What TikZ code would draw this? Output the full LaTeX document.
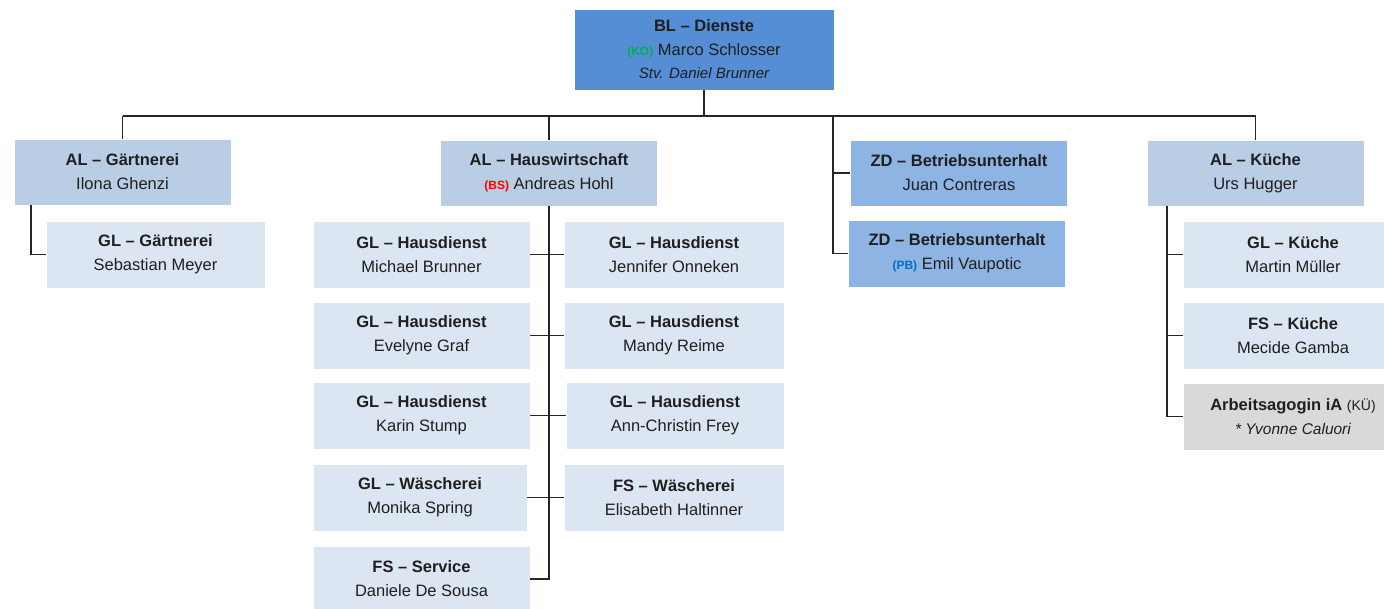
\documentclass[tikz,border=0pt]{standalone}
\usepackage{fontspec}
\setmainfont{Liberation Sans}
\definecolor{blfill}{HTML}{558ED5}
\definecolor{zdfill}{HTML}{8DB4E2}
\definecolor{alfill}{HTML}{B9CDE5}
\definecolor{glfill}{HTML}{DCE6F2}
\definecolor{grfill}{HTML}{D9D9D9}
\definecolor{txt}{HTML}{1F1F1F}
\definecolor{lin}{HTML}{262626}
\definecolor{kogreen}{HTML}{00B050}
\definecolor{bsred}{HTML}{FF0000}
\definecolor{pbblue}{HTML}{0070C0}
\newcommand{\tagsmall}[2]{{\color{#1}\bfseries\fontsize{12}{14}\selectfont #2}}
\begin{document}
\begin{tikzpicture}[x=1pt,y=-1pt,
  orgbox/.style={rectangle, inner sep=0pt, align=center, text=txt, draw=white, line width=0.6pt,
     minimum width=217pt, minimum height=67pt, font={\fontsize{16.5}{24}\selectfont}},
  albox/.style={orgbox, fill=alfill, minimum height=66pt},
  glbox/.style={orgbox, fill=glfill},
  zdbox/.style={orgbox, fill=zdfill},
  conn/.style={draw=lin, line width=1.3pt}]
\useasboundingbox (0,0) rectangle (1384,609);
\clip (0,0) rectangle (1384,609);
\fill[white] (0,0) rectangle (1384,609);

% top
\node[orgbox, fill=blfill, minimum width=260pt, minimum height=81pt, font={\fontsize{16.5}{23.5}\selectfont}] (bl) at (704,49.5)
  {\textbf{BL – Dienste}\\\tagsmall{kogreen}{(KO)} Marco Schlosser\\{\itshape\fontsize{15}{23.5}\selectfont Stv. Daniel Brunner}};

% level 1
\node[albox] (gart) at (122.5,172) {\textbf{AL – Gärtnerei}\\Ilona Ghenzi};
\node[albox] (haus) at (549,173) {\textbf{AL – Hauswirtschaft}\\\tagsmall{bsred}{(BS)} Andreas Hohl};
\node[zdbox, minimum height=66pt] (zd1) at (959,173) {\textbf{ZD – Betriebsunterhalt}\\Juan Contreras};
\node[zdbox] (zd2) at (957,253.5) {\textbf{ZD – Betriebsunterhalt}\\\tagsmall{pbblue}{(PB)} Emil Vaupotic};
\node[albox] (ku) at (1255.5,173) {\textbf{AL – Küche}\\Urs Hugger};

% Gaertnerei
\node[glbox, minimum width=219pt] (gartgl) at (155.5,254.5) {\textbf{GL – Gärtnerei}\\Sebastian Meyer};

% Hauswirtschaft left column
\node[glbox] (hd1) at (421.5,254.5) {\textbf{GL – Hausdienst}\\Michael Brunner};
\node[glbox] (hd3) at (421.5,335.5) {\textbf{GL – Hausdienst}\\Evelyne Graf};
\node[glbox] (hd5) at (421.5,415.5) {\textbf{GL – Hausdienst}\\Karin Stump};
\node[glbox, minimum width=214pt] (wl) at (420,497.5) {\textbf{GL – Wäscherei}\\Monika Spring};
\node[glbox, minimum height=66pt] (fs) at (421.5,579) {\textbf{FS – Service}\\Daniele De Sousa};
% right column
\node[glbox, minimum width=220pt] (hd2) at (674,254.5) {\textbf{GL – Hausdienst}\\Jennifer Onneken};
\node[glbox, minimum width=220pt] (hd4) at (674,335.5) {\textbf{GL – Hausdienst}\\Mandy Reime};
\node[glbox, minimum width=218pt] (hd6) at (675,415.5) {\textbf{GL – Hausdienst}\\Ann-Christin Frey};
\node[glbox, minimum width=220pt] (ws) at (674,497.5) {\textbf{FS – Wäscherei}\\Elisabeth Haltinner};

% Kueche
\node[glbox, minimum width=220pt] (kgl) at (1293,254.5) {\textbf{GL – Küche}\\Martin Müller};
\node[glbox, minimum width=220pt] (kfs) at (1293,335.5) {\textbf{FS – Küche}\\Mecide Gamba};
\node[orgbox, fill=grfill, minimum width=220pt] (kag) at (1293,416.5)
  {\textbf{Arbeitsagogin iA} {\fontsize{14}{24}\selectfont (KÜ)}\\{\itshape\fontsize{15.5}{24}\selectfont * Yvonne Caluori}};

% coordinates
\coordinate (bus) at (0,116);
\coordinate (gx) at (31,0);
\coordinate (zdx) at (833,116);
\coordinate (kx) at (1167,0);

% connectors
\draw[conn] (bl.south) -- (bl.south |- bus);
\draw[conn] (gart.north |- bus) -- (ku.north |- bus);
\draw[conn] (gart.north |- bus) -- (gart.north);
\draw[conn] (haus.north |- bus) -- (haus.north);
\draw[conn] (ku.north |- bus) -- (ku.north);
\draw[conn] (zdx) |- (zd2.west);
\draw[conn] (zdx |- zd1.west) -- (zd1.west);
\draw[conn] (gart.south -| gx) |- (gartgl.west);
\draw[conn] (haus.south) -- (haus.south |- fs.east) -- (fs.east);
\draw[conn] (hd1.east) -- (hd2.west);
\draw[conn] (hd3.east) -- (hd4.west);
\draw[conn] (hd5.east) -- (hd6.west);
\draw[conn] (wl.east) -- (ws.west);
\draw[conn] (ku.south -| kx) |- (kag.west);
\draw[conn] (kgl.west -| kx) -- (kgl.west);
\draw[conn] (kfs.west -| kx) -- (kfs.west);
\end{tikzpicture}
\end{document}
